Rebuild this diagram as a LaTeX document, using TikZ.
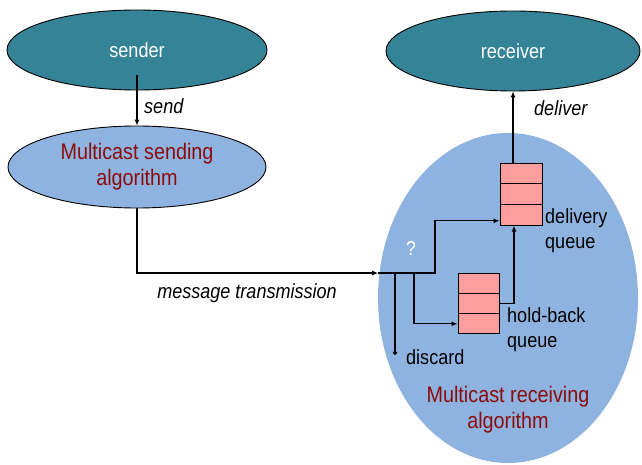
\documentclass[tikz,border=0pt]{standalone}
\usepackage{fontspec}
\setmainfont[FakeStretch=0.88]{Liberation Sans}
\usetikzlibrary{shapes.geometric,arrows.meta,calc}
\definecolor{tealfill}{RGB}{52,131,151}
\definecolor{algofill}{RGB}{143,179,224}
\definecolor{algotext}{RGB}{140,12,12}
\definecolor{qfill}{RGB}{252,158,158}
\begin{document}
\begin{tikzpicture}[x=1pt,y=-1pt,
  proc/.style={ellipse,draw=black,line width=0.9pt,fill=tealfill,inner sep=0pt,
    text=white,font=\fontsize{20.5}{24}\selectfont},
  algo/.style={ellipse,inner sep=0pt,fill=algofill,text=algotext,align=center,
    font=\fontsize{22.5}{26}\selectfont},
  cell/.style={rectangle,draw=black,line width=1pt,fill=qfill,inner sep=0pt},
  lab/.style={inner sep=0pt,font=\fontsize{20.5}{25}\selectfont,align=left},
  ilab/.style={inner sep=0pt,font=\fontsize{20.5}{25}\selectfont\itshape},
  wire/.style={line width=1.1pt,draw=black},
  arr/.style={wire,-{Latex[length=6pt,width=5pt]}}]
\useasboundingbox (0,0) rectangle (642,465);

% big receiving-side algorithm region (drawn first, underneath)
\node[algo,minimum width=260pt,minimum height=330pt] (recv) at (508,298) {};
\node[inner sep=0pt,text=algotext,align=center,
  font=\fontsize{22.5}{26}\selectfont] (recvtxt) at (508,410)
  {Multicast receiving\\algorithm};

% processes
\node[proc,minimum width=260pt,minimum height=80pt] (sender) at (137,50) {sender};
\node[proc,minimum width=254pt,minimum height=80pt] (receiver) at (513,51) {receiver};

% sending-side algorithm
\node[algo,draw=black,line width=0.9pt,minimum width=258pt,minimum height=82pt]
  (send) at (137,167) {Multicast sending\\algorithm};

% delivery queue
\node[cell,minimum width=42pt,minimum height=20.7pt] (dq1) at (521,173.4) {};
\node[cell,minimum width=42pt,minimum height=20.7pt] (dq2) at (521,194.1) {};
\node[cell,minimum width=42pt,minimum height=20.7pt] (dq3) at (521,214.8) {};

% hold-back queue
\node[cell,minimum width=41pt,minimum height=20.3pt] (hq1) at (478.5,283.2) {};
\node[cell,minimum width=41pt,minimum height=20.3pt] (hq2) at (478.5,303.5) {};
\node[cell,minimum width=41pt,minimum height=20.3pt] (hq3) at (478.5,323.8) {};

% junction points on the incoming line
\coordinate (in) at (378,273);
\coordinate (jd) at (395,273);
\coordinate (jh) at (414,273);
\coordinate (jq) at (435,273);
\coordinate (dis) at (395,355);

% send / deliver
\draw[arr] ([yshift=15pt]sender.south) -- (send.north);
\node[ilab,anchor=west] (sendlab) at (144,106) {send};
\draw[arr] (dq1.north -| receiver.south) -- (receiver.south);
\node[ilab,anchor=west] (dellab) at (534,108) {deliver};

% message transmission
\draw[arr] (send.south) |- (in);
\node[ilab] (msglab) at (247,293) {message transmission};

% routing inside the receiver
\draw[arr] (in) -- (jq) |- ([yshift=-6pt]dq3.west);
\draw[wire,-{Circle[length=4.5pt]}] (jd) -- (dis);
\draw[arr] (jh) |- (hq3.west);
\draw[arr] (hq2.east) -| ([xshift=-7pt]dq3.south);

\node[inner sep=0pt,text=white,font=\fontsize{20}{24}\selectfont] (q) at (411,249) {?};
\node[lab,anchor=west] (dqlab) at (545,231) {delivery\\queue};
\node[lab,anchor=west] (hqlab) at (507,330) {hold-back\\queue};
\node[lab,anchor=west] (dislab) at (406,357) {discard};
\end{tikzpicture}
\end{document}
